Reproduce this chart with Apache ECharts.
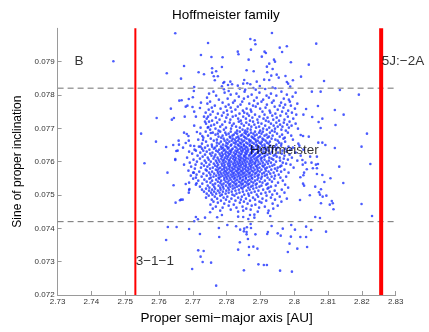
<!DOCTYPE html>
<html><head><meta charset="utf-8">
<script src="https://cdn.jsdelivr.net/npm/echarts@6/dist/echarts.min.js"></script>
<style>html,body{margin:0;padding:0;background:#fff}#c{width:429px;height:332px}</style>
</head><body><div id="c"></div>
<script>
const chartTitle = 'Hoffmeister family';
const xAxisName = 'Proper semi\u2212major axis [AU]';
const yAxisName = 'Sine of proper inclination';
const xTicks = [2.73, 2.74, 2.75, 2.76, 2.77, 2.78, 2.79, 2.8, 2.81, 2.82, 2.83];
const yTicks = [0.072, 0.073, 0.074, 0.075, 0.076, 0.077, 0.078, 0.079];
const yTop = 0.080;
const resonanceA = [2.753, 2.8257];
const boundarySinI = [0.0782, 0.0742];
const annotations = [
  [2.735, 0.0790, 'B'],
  [2.7531, 0.0730, '3\u22121\u22121'],
  [2.8259, 0.0790, '5J:\u22122A'],
  [2.7869, 0.07635, 'Hoffmeister']
];
// individually read members (a [AU], sin i)
const scatteredPoints = [
[2.7648,0.07985],[2.7745,0.07956],[2.7724,0.07920],[2.7755,0.07914],[2.7674,0.07887],[2.7623,0.07865],[2.7665,0.07849],[2.7717,0.07868],[2.7733,0.07862],[2.7757,0.07880],[2.7757,0.07867],[2.7769,0.07871],[2.7762,0.07856],[2.7774,0.07856],[2.7765,0.07844],[2.7786,0.07884],[2.7788,0.07913],[2.7934,0.07986],[2.7870,0.07968],[2.7883,0.07964],[2.7885,0.07952],[2.7833,0.07930],[2.7835,0.07922],[2.7872,0.07936],[2.7865,0.07906],[2.7912,0.07930],[2.7916,0.07926],[2.7904,0.07915],[2.7940,0.07906],[2.7943,0.07900],[2.7926,0.07894],[2.7859,0.07874],[2.7880,0.07871],[2.7919,0.07885],[2.7936,0.07878],[2.7920,0.07868],[2.7948,0.07861],[2.7932,0.07858],[2.7911,0.07846],[2.7926,0.07845],[2.7954,0.07852],[2.7852,0.07845],[2.7861,0.07835],[2.7889,0.07840],[2.7793,0.07839],[2.7790,0.07836],[2.7811,0.07840],[2.7816,0.07832],[2.7804,0.07830],[2.7786,0.07826],[2.7833,0.07828],[2.7839,0.07819],[2.7849,0.07834],[2.7870,0.07832],[2.7879,0.07821],[2.7886,0.07816],[2.7898,0.07827],[2.7914,0.07818],[2.7936,0.07822],[2.7944,0.07820],[2.7704,0.07824],[2.7703,0.07812],[2.7792,0.07817],[2.7806,0.07812],[2.7855,0.07816],
[2.7957,0.07942],[2.7978,0.07946],[2.7964,0.07929],[2.8065,0.07954],[2.7990,0.07898],[2.8043,0.07891],[2.7974,0.07857],[2.8020,0.07855],[2.7978,0.07839],[2.7982,0.07834],[2.7996,0.07844],[2.7988,0.07825],[2.8088,0.07842],[2.8052,0.07810],[2.8078,0.07810],[2.8135,0.07815],
[2.8191,0.07801],[2.8035,0.07758],[2.8070,0.07767],[2.8120,0.07755],[2.8146,0.07741],[2.8027,0.07741],[2.8053,0.07734],[2.8083,0.07729],[2.8072,0.07719],[2.8122,0.07710],[2.8078,0.07701],[2.8215,0.07684],[2.8026,0.07677],[2.8043,0.07675],[2.8071,0.07657],[2.8083,0.07657],[2.8092,0.07650],[2.8120,0.07641],[2.8199,0.07645],[2.8019,0.07680],[2.8047,0.07615],[2.8067,0.07615],
[2.8024,0.07605],[2.8033,0.07597],[2.8051,0.07597],[2.8070,0.07593],[2.8064,0.07591],[2.8025,0.07591],[2.8055,0.07580],[2.8037,0.07577],[2.8067,0.07580],[2.8133,0.07585],[2.8225,0.07593],[2.8029,0.07567],[2.8027,0.07559],[2.8067,0.07563],[2.8083,0.07560],[2.8018,0.07553],[2.8107,0.07550],[2.8089,0.07539],[2.8145,0.07536],[2.8026,0.07534],[2.8029,0.07528],[2.8062,0.07525],[2.8079,0.07517],[2.8073,0.07508],[2.8076,0.07501],[2.8084,0.07495],[2.8095,0.07498],[2.8046,0.07499],[2.8017,0.07485],[2.8111,0.07482],[2.8114,0.07475],[2.8105,0.07471],[2.8079,0.07475],[2.8199,0.07473],[2.8116,0.07457],[2.8230,0.07437],[2.8062,0.07434],[2.8076,0.07431],[2.8035,0.07405],[2.8050,0.07395],[2.8094,0.07390],[2.8018,0.07374],[2.8035,0.07374],[2.8038,0.07344],
[2.7626,0.07404],[2.7652,0.07404],[2.7689,0.07398],[2.7621,0.07365],[2.7721,0.07383],[2.7777,0.07401],[2.7802,0.07410],[2.7778,0.07374],[2.7828,0.07406],[2.7840,0.07396],[2.7852,0.07399],[2.7860,0.07403],[2.7851,0.07391],[2.7859,0.07389],[2.7872,0.07401],[2.7871,0.07413],[2.7859,0.07382],[2.7885,0.07382],[2.7863,0.07368],[2.7933,0.07407],[2.7966,0.07399],[2.7991,0.07410],[2.8002,0.07396],[2.7922,0.07389],[2.7920,0.07383],[2.7951,0.07385],[2.7960,0.07378],[2.7990,0.07375],[2.7716,0.07334],[2.7732,0.07332],[2.7723,0.07315],[2.7729,0.07299],[2.7754,0.07297],[2.7839,0.07358],[2.7834,0.07336],[2.7866,0.07344],[2.7879,0.07345],[2.7891,0.07339],[2.7866,0.07320],[2.7986,0.07354],[2.8009,0.07339],[2.7981,0.07329],[2.7894,0.07292],[2.7910,0.07290],[2.7919,0.07290],[2.7698,0.07278],[2.7851,0.07274],[2.7958,0.07273],[2.7993,0.07270],[2.7769,0.07228],
[2.7709,0.07434],[2.7736,0.07432],[2.7751,0.07448],[2.7772,0.07433],[2.7786,0.07440],[2.7834,0.07435],[2.7849,0.07434],[2.7864,0.07428],[2.7869,0.07440],[2.7882,0.07441],[2.7882,0.07432],[2.7922,0.07446],[2.7929,0.07437],[2.7704,0.07421],[2.7715,0.07427],
[2.7557,0.07595],[2.7625,0.07567],[2.7648,0.07605],[2.7655,0.07633],[2.7674,0.07591],[2.7643,0.07529],[2.7679,0.07533],[2.7689,0.07515],[2.7688,0.07507],[2.7649,0.07477],[2.7662,0.07484],[2.7665,0.07486],[2.7701,0.07567],[2.7711,0.07535],[2.7690,0.07518],[2.7670,0.07486],
[2.7465,0.07901],[2.7688,0.07788],[2.7660,0.07783],[2.7667,0.07784],[2.7635,0.07759],[2.7679,0.07765],[2.7593,0.07731],[2.7644,0.07731],[2.7638,0.07726],[2.7547,0.07684],[2.7674,0.07687],[2.7682,0.07683],[2.7687,0.07677],[2.7591,0.07660],[2.7658,0.07663],[2.7679,0.07656],[2.7642,0.07650],[2.7659,0.07651],[2.7621,0.07644],[2.7688,0.07663],[2.7651,0.07632],[2.7648,0.07608],
[2.7700,0.07793],[2.7684,0.07768],[2.7699,0.07764],[2.7704,0.07750],[2.7676,0.07735],[2.7709,0.07735],[2.7724,0.07777],[2.7721,0.07761],[2.7733,0.07735],[2.7704,0.07708],[2.7712,0.07689],[2.7723,0.07702],[2.7728,0.07677],[2.7730,0.07665],[2.7704,0.07647],[2.7709,0.07633],[2.7723,0.07645],[2.7736,0.07720],[2.7746,0.07704],[2.7753,0.07686]
];
// dense core, estimated row by row: [sin i, [a values]]
const coreRows = [
[0.07810,[2.7761,2.7853,2.7962]],
[0.07807,[2.7794,2.7897,2.8004]],
[0.07804,[2.7748,2.7829,2.7931]],
[0.07801,[2.7812,2.7874,2.7978]],
[0.07798,[2.7769,2.7918,2.7947]],
[0.07795,[2.7836,2.7863,2.7995]],
[0.07792,[2.7742,2.7889,2.7925]],
[0.07789,[2.7803,2.7851,2.7969]],
[0.07786,[2.7777,2.7908,2.7984]],
[0.07783,[2.7824,2.7881,2.7939]],
[0.07780,[2.7751,2.7846,2.7903,2.7987]],
[0.07777,[2.7788,2.7819,2.7934,2.7961]],
[0.07774,[2.7743,2.7867,2.7892,2.8009]],
[0.07771,[2.7806,2.7841,2.7919,2.7973]],
[0.07768,[2.7765,2.7878,2.7957,2.7990]],
[0.07765,[2.7797,2.7833,2.7886,2.7942]],
[0.07762,[2.7756,2.7812,2.7915,2.7968]],
[0.07759,[2.7782,2.7859,2.7899,2.8002]],
[0.07756,[2.7747,2.7826,2.7871,2.7951]],
[0.07753,[2.7801,2.7848,2.7927,2.7982]],
[0.07750,[2.7759,2.7815,2.7873,2.7906,2.7964]],
[0.07747,[2.7738,2.7791,2.7852,2.7929,2.7993]],
[0.07744,[2.7774,2.7838,2.7861,2.7944,2.7976]],
[0.07741,[2.7752,2.7803,2.7884,2.7912,2.8006]],
[0.07738,[2.7786,2.7827,2.7866,2.7935,2.7959]],
[0.07735,[2.7745,2.7818,2.7849,2.7897,2.7981]],
[0.07732,[2.7768,2.7799,2.7876,2.7921,2.7948]],
[0.07729,[2.7741,2.7834,2.7857,2.7909,2.7997]],
[0.07726,[2.7779,2.7811,2.7891,2.7938,2.7971]],
[0.07723,[2.7757,2.7842,2.7869,2.7916,2.7955]],
[0.07720,[2.7748,2.7795,2.7836,2.7878,2.7924,2.7986]],
[0.07717,[2.7772,2.7809,2.7858,2.7893,2.7947,2.7969]],
[0.07714,[2.7739,2.7821,2.7844,2.7903,2.7931,2.8004]],
[0.07711,[2.7763,2.7787,2.7866,2.7882,2.7958,2.7979]],
[0.07708,[2.7754,2.7816,2.7851,2.7914,2.7939,2.7992]],
[0.07705,[2.7781,2.7828,2.7873,2.7896,2.7951,2.7965]],
[0.07702,[2.7744,2.7798,2.7839,2.7887,2.7926,2.7984]],
[0.07699,[2.7767,2.7813,2.7862,2.7908,2.7943,2.8011]],
[0.07696,[2.7751,2.7792,2.7847,2.7871,2.7919,2.7962]],
[0.07693,[2.7776,2.7831,2.7855,2.7899,2.7934,2.7975]],
[0.07690,[2.7738,2.7781,2.7812,2.7839,2.7861,2.7884,2.7907,2.7942]],
[0.07687,[2.7759,2.7796,2.7826,2.7853,2.7872,2.7896,2.7928,2.7981]],
[0.07684,[2.7722,2.7774,2.7806,2.7831,2.7857,2.7879,2.7903,2.7949]],
[0.07681,[2.7767,2.7799,2.7821,2.7846,2.7866,2.7889,2.7918,2.7964]],
[0.07678,[2.7745,2.7788,2.7817,2.7842,2.7863,2.7883,2.7912,2.7936,2.7991]],
[0.07675,[2.7776,2.7809,2.7834,2.7851,2.7874,2.7899,2.7925,2.7957]],
[0.07672,[2.7731,2.7784,2.7811,2.7829,2.7855,2.7877,2.7894,2.7921,2.7972]],
[0.07669,[2.7753,2.7791,2.7818,2.7837,2.7859,2.7881,2.7906,2.7933,2.7968]],
[0.07666,[2.7716,2.7771,2.7802,2.7824,2.7844,2.7866,2.7885,2.7909,2.7944,2.7996]],
[0.07663,[2.7762,2.7794,2.7815,2.7834,2.7852,2.7871,2.7892,2.7915,2.7951]],
[0.07660,[2.7739,2.7783,2.7808,2.7828,2.7847,2.7868,2.7887,2.7904,2.7928,2.7973]],
[0.07657,[2.7771,2.7799,2.7821,2.7839,2.7858,2.7876,2.7897,2.7919,2.7955]],
[0.07654,[2.7727,2.7778,2.7803,2.7826,2.7843,2.7862,2.7881,2.7901,2.7924,2.7962,2.8012]],
[0.07651,[2.7756,2.7789,2.7814,2.7833,2.7851,2.7869,2.7889,2.7912,2.7947]],
[0.07648,[2.7693,2.7744,2.7771,2.7797,2.7812,2.7836,2.7851,2.7868,2.7887,2.7905,2.7929,2.7961,2.8015]],
[0.07645,[2.7718,2.7757,2.7783,2.7801,2.7824,2.7842,2.7857,2.7875,2.7894,2.7913,2.7942,2.7983]],
[0.07642,[2.7671,2.7736,2.7766,2.7789,2.7806,2.7829,2.7846,2.7861,2.7879,2.7898,2.7921,2.7951,2.7996]],
[0.07639,[2.7727,2.7762,2.7785,2.7803,2.7818,2.7839,2.7854,2.7872,2.7889,2.7911,2.7936,2.7974]],
[0.07636,[2.7705,2.7749,2.7778,2.7794,2.7815,2.7833,2.7849,2.7864,2.7882,2.7903,2.7918,2.7946,2.7988,2.8027]],
[0.07633,[2.7731,2.7769,2.7791,2.7809,2.7826,2.7843,2.7858,2.7876,2.7896,2.7924,2.7965]],
[0.07630,[2.7689,2.7741,2.7774,2.7798,2.7813,2.7831,2.7847,2.7862,2.7878,2.7893,2.7909,2.7934,2.7977]],
[0.07627,[2.7722,2.7758,2.7786,2.7804,2.7821,2.7837,2.7855,2.7871,2.7891,2.7915,2.7952,2.8004]],
[0.07624,[2.7698,2.7751,2.7779,2.7796,2.7811,2.7828,2.7844,2.7859,2.7873,2.7886,2.7906,2.7929,2.7963]],
[0.07621,[2.7736,2.7767,2.7789,2.7807,2.7825,2.7841,2.7856,2.7869,2.7884,2.7899,2.7921,2.7944,2.7986]],
[0.07618,[2.7714,2.7755,2.7782,2.7799,2.7817,2.7834,2.7851,2.7866,2.7881,2.7897,2.7914,2.7939,2.7971,2.8019]],
[0.07615,[2.7729,2.7764,2.7787,2.7804,2.7822,2.7838,2.7853,2.7877,2.7893,2.7911,2.7948]],
[0.07612,[2.7683,2.7744,2.7773,2.7795,2.7812,2.7827,2.7843,2.7858,2.7871,2.7888,2.7904,2.7926,2.7957,2.7993]],
[0.07609,[2.7721,2.7761,2.7784,2.7801,2.7819,2.7835,2.7849,2.7864,2.7882,2.7901,2.7933,2.7969]],
[0.07606,[2.7702,2.7747,2.7776,2.7792,2.7809,2.7826,2.7841,2.7856,2.7874,2.7891,2.7912,2.7938,2.7981]],
[0.07603,[2.7735,2.7768,2.7788,2.7806,2.7823,2.7838,2.7852,2.7869,2.7886,2.7903,2.7925,2.7958,2.8009]],
[0.07600,[2.7712,2.7753,2.7779,2.7797,2.7814,2.7831,2.7846,2.7861,2.7877,2.7894,2.7918,2.7946]],
[0.07597,[2.7691,2.7739,2.7771,2.7791,2.7808,2.7824,2.7839,2.7855,2.7871,2.7885,2.7907,2.7931,2.7966]],
[0.07594,[2.7726,2.7762,2.7785,2.7803,2.7819,2.7834,2.7848,2.7866,2.7882,2.7899,2.7922,2.7976]],
[0.07591,[2.7708,2.7749,2.7775,2.7794,2.7811,2.7828,2.7843,2.7858,2.7875,2.7893,2.7913,2.7941,2.7989]],
[0.07588,[2.7733,2.7766,2.7787,2.7805,2.7821,2.7836,2.7852,2.7868,2.7886,2.7906,2.7935,2.7962]],
[0.07585,[2.7695,2.7743,2.7772,2.7793,2.7809,2.7826,2.7841,2.7857,2.7872,2.7889,2.7909,2.7927,2.7958]],
[0.07582,[2.7724,2.7759,2.7781,2.7799,2.7816,2.7832,2.7847,2.7863,2.7879,2.7897,2.7919,2.7951,2.7998]],
[0.07579,[2.7706,2.7751,2.7776,2.7792,2.7808,2.7823,2.7838,2.7855,2.7871,2.7891,2.7914,2.7943]],
[0.07576,[2.7738,2.7768,2.7786,2.7802,2.7818,2.7834,2.7849,2.7865,2.7883,2.7903,2.7932,2.7971]],
[0.07573,[2.7687,2.7741,2.7773,2.7794,2.7811,2.7827,2.7842,2.7858,2.7874,2.7892,2.7916,2.7949]],
[0.07570,[2.7719,2.7757,2.7781,2.7798,2.7815,2.7831,2.7846,2.7862,2.7879,2.7898,2.7924,2.7961]],
[0.07567,[2.7703,2.7748,2.7774,2.7791,2.7806,2.7822,2.7838,2.7853,2.7869,2.7888,2.7911,2.7939,2.7983]],
[0.07564,[2.7731,2.7763,2.7784,2.7801,2.7818,2.7834,2.7849,2.7866,2.7884,2.7905,2.7929]],
[0.07561,[2.7711,2.7752,2.7777,2.7795,2.7812,2.7827,2.7843,2.7859,2.7876,2.7895,2.7919,2.7954]],
[0.07558,[2.7694,2.7741,2.7769,2.7788,2.7805,2.7821,2.7837,2.7854,2.7871,2.7891,2.7913,2.7943]],
[0.07555,[2.7726,2.7761,2.7782,2.7799,2.7816,2.7832,2.7848,2.7865,2.7883,2.7904,2.7933,2.7976]],
[0.07552,[2.7709,2.7753,2.7776,2.7793,2.7809,2.7825,2.7841,2.7857,2.7874,2.7894,2.7921,2.7959]],
[0.07549,[2.7701,2.7749,2.7778,2.7801,2.7821,2.7839,2.7857,2.7876,2.7902,2.7941]],
[0.07546,[2.7734,2.7769,2.7793,2.7812,2.7831,2.7849,2.7868,2.7891,2.7927]],
[0.07543,[2.7716,2.7757,2.7784,2.7806,2.7826,2.7845,2.7863,2.7884,2.7913,2.7966]],
[0.07540,[2.7741,2.7774,2.7797,2.7817,2.7836,2.7854,2.7873,2.7898,2.7934]],
[0.07537,[2.7689,2.7752,2.7781,2.7803,2.7822,2.7841,2.7859,2.7879,2.7906,2.7952]],
[0.07534,[2.7728,2.7766,2.7791,2.7811,2.7829,2.7848,2.7867,2.7889,2.7921]],
[0.07531,[2.7709,2.7759,2.7785,2.7807,2.7826,2.7844,2.7863,2.7886,2.7917,2.7973]],
[0.07528,[2.7744,2.7776,2.7798,2.7818,2.7837,2.7856,2.7877,2.7903,2.7945]],
[0.07525,[2.7721,2.7763,2.7789,2.7811,2.7831,2.7851,2.7872,2.7897,2.7931]],
[0.07522,[2.7749,2.7781,2.7804,2.7824,2.7843,2.7864,2.7888,2.7924,2.7982]],
[0.07519,[2.7739,2.7766,2.7791,2.7818,2.7847,2.7879,2.7921]],
[0.07516,[2.7727,2.7757,2.7782,2.7807,2.7836,2.7868,2.7908,2.7963]],
[0.07513,[2.7748,2.7774,2.7799,2.7826,2.7859,2.7894,2.7942]],
[0.07510,[2.7733,2.7763,2.7789,2.7815,2.7848,2.7883,2.7927]],
[0.07507,[2.7754,2.7779,2.7806,2.7838,2.7873,2.7915,2.7971]],
[0.07504,[2.7741,2.7769,2.7797,2.7829,2.7864,2.7902,2.7949]],
[0.07501,[2.7758,2.7786,2.7817,2.7852,2.7889,2.7935]],
[0.07498,[2.7747,2.7781,2.7823,2.7866,2.7918]],
[0.07495,[2.7765,2.7802,2.7845,2.7893,2.7957]],
[0.07492,[2.7739,2.7791,2.7834,2.7878,2.7931]],
[0.07489,[2.7772,2.7814,2.7857,2.7906,2.7978]],
[0.07486,[2.7756,2.7798,2.7842,2.7884,2.7943]],
[0.07483,[2.7783,2.7826,2.7869,2.7917]],
[0.07480,[2.7761,2.7808,2.7851,2.7897,2.7962]],
[0.07477,[2.7774,2.7839,2.7903]],
[0.07474,[2.7793,2.7862,2.7936]],
[0.07471,[2.7752,2.7821,2.7885]],
[0.07468,[2.7806,2.7874,2.7951]],
[0.07465,[2.7768,2.7847,2.7913]],
[0.07462,[2.7788,2.7829,2.7896]],
[0.07459,[2.7759,2.7858,2.7938]],
[0.07456,[2.7812,2.7871]],
[0.07453,[2.7781,2.7849,2.7924]],
[0.07450,[2.7834,2.7892]]
];

const familyData = scatteredPoints.slice();
coreRows.forEach(function (row) {
  row[1].forEach(function (a) { familyData.push([a, row[0]]); });
});

const xMin = xTicks[0], xMax = xTicks[xTicks.length - 1], yMin = yTicks[0];
function vLine(a, width) {
  return {type: 'line', data: [[a, yMin], [a, yTop]], showSymbol: false, symbol: 'none', silent: true, z: 4,
    lineStyle: {color: '#ff0000', width: width, type: 'solid'}};
}
function hLine(s, color, width) {
  return {type: 'line', data: [[xMin, s], [xMax, s]], showSymbol: false, symbol: 'none', silent: true, z: 3,
    lineStyle: {color: color, width: width, type: [6, 4]}};
}

const FONT = "'Liberation Sans', Arial, Helvetica, sans-serif";
const chart = echarts.init(document.getElementById('c'), null, {renderer: 'canvas'});
chart.setOption({
  animation: false,
  backgroundColor: '#ffffff',
  title: {
    text: chartTitle, left: 172, top: 8, padding: 0,
    textStyle: {fontSize: 13.5, fontWeight: 'normal', color: '#000', fontFamily: FONT}
  },
  grid: {left: 57.6, right: 33.3, top: 28.3, bottom: 37, containLabel: false},
  xAxis: {
    type: 'value', min: xMin, max: xMax, interval: 0.01,
    name: xAxisName, nameLocation: 'middle', nameGap: 12,
    nameTextStyle: {fontSize: 13.5, color: '#000', fontFamily: FONT},
    axisLine: {show: true, lineStyle: {color: '#9a9a9a', width: 1}},
    axisTick: {show: true, inside: true, length: 4, lineStyle: {color: '#9a9a9a'}},
    axisLabel: {fontSize: 8, color: '#333', margin: 3, fontFamily: FONT},
    splitLine: {show: false}
  },
  yAxis: {
    type: 'value', min: yMin, max: yTop, interval: 0.001,
    name: yAxisName, nameLocation: 'middle', nameGap: 23,
    nameTextStyle: {fontSize: 12, color: '#000', fontFamily: FONT},
    axisLine: {show: true, lineStyle: {color: '#9a9a9a', width: 1}},
    axisTick: {show: true, inside: true, length: 4, lineStyle: {color: '#9a9a9a'}, customValues: yTicks},
    axisLabel: {fontSize: 8, color: '#333', margin: 3, fontFamily: FONT, customValues: yTicks,
      formatter: function (v) { return v > 0.0795 ? '' : String(+v.toFixed(3)); }},
    splitLine: {show: false}
  },
  series: [
    {
      type: 'scatter', name: 'family', data: familyData,
      symbol: 'circle', symbolSize: 2.6,
      itemStyle: {color: '#1f33ff'},
      silent: true, z: 2
    },
    vLine(resonanceA[0], 2),
    vLine(resonanceA[1], 4),
    hLine(boundarySinI[0], '#a0a0a0', 1.5),
    hLine(boundarySinI[1], '#707070', 1),
    {
      type: 'scatter', name: 'labels', data: annotations,
      symbolSize: 0, silent: true, z: 10,
      label: {
        show: true, position: 'right', distance: 0,
        formatter: function (p) { return p.value[2]; },
        fontSize: 13.5, color: '#000', fontFamily: FONT, verticalAlign: 'middle'
      }
    }
  ]
});
</script>
</body></html>
